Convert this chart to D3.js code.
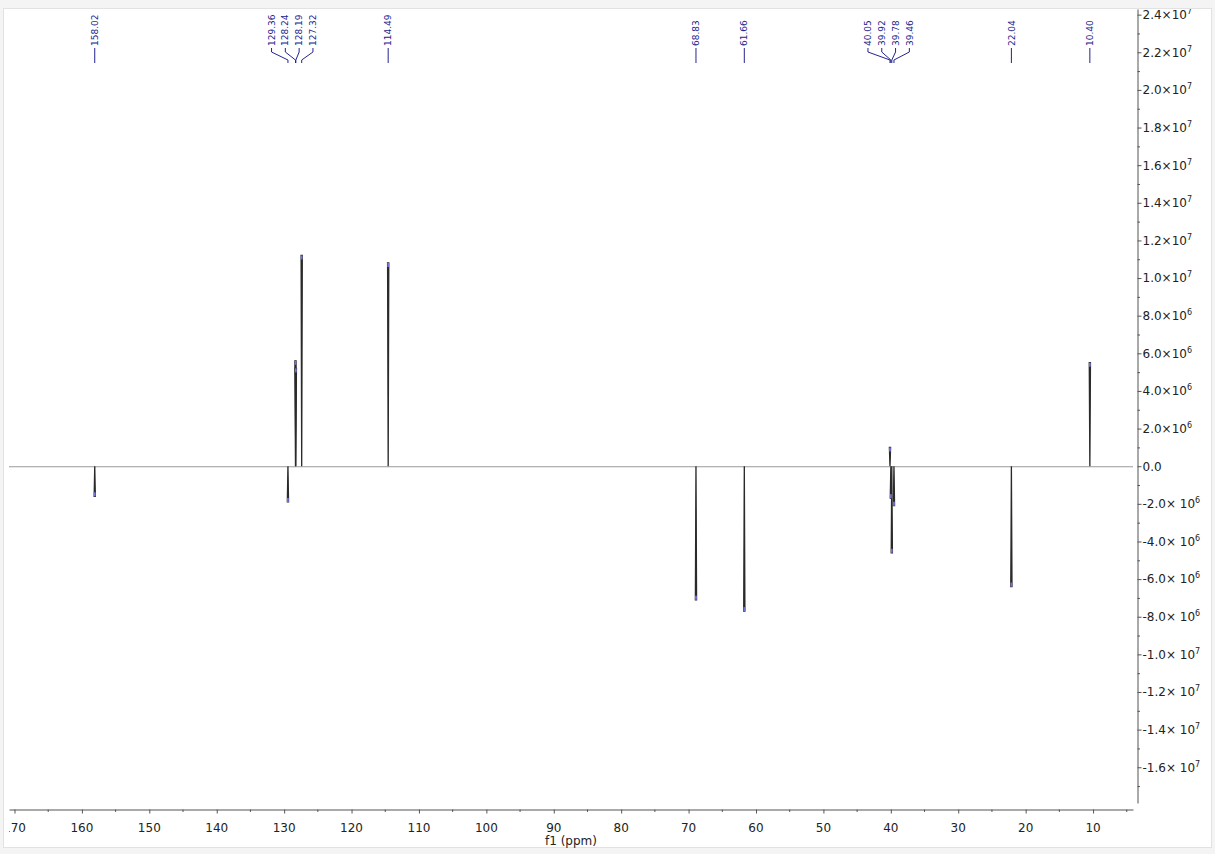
<!DOCTYPE html>
<html><head><meta charset="utf-8">
<script src="https://cdn.jsdelivr.net/npm/d3@7"></script>
<style>body{margin:0;background:#f4f4f4}svg{display:block}</style>
</head><body><svg id="c" width="1215" height="854"></svg>
<script>
// ---- data ----
const peakPpm = [158.02, 129.36, 128.24, 128.19, 127.32, 114.49, 68.83, 61.66, 40.05, 39.92, 39.78, 39.46, 22.04, 10.40];
const peakIntensity = [-1.6e6, -1.9e6, 5.6e6, 5.2e6, 1.12e7, 1.08e7, -7.1e6, -7.7e6, 1.0e6, -1.7e6, -4.6e6, -2.1e6, -6.4e6, 5.5e6];
const labelGroups = [[158.02], [129.36, 128.24, 128.19, 127.32], [114.49], [68.83], [61.66], [40.05, 39.92, 39.78, 39.46], [22.04], [10.40]];
const xMajorTicks = [170, 160, 150, 140, 130, 120, 110, 100, 90, 80, 70, 60, 50, 40, 30, 20, 10];
const xMinorTicks = [165, 155, 145, 135, 125, 115, 105, 95, 85, 75, 65, 55, 45, 35, 25, 15, 5];
const yMajorTicks = [2.4e7, 2.2e7, 2.0e7, 1.8e7, 1.6e7, 1.4e7, 1.2e7, 1.0e7, 8e6, 6e6, 4e6, 2e6, 0, -2e6, -4e6, -6e6, -8e6, -1.0e7, -1.2e7, -1.4e7, -1.6e7];
const yMinorTicks = [2.3e7, 2.1e7, 1.9e7, 1.7e7, 1.5e7, 1.3e7, 1.1e7, 9e6, 7e6, 5e6, 3e6, 1e6, -1e6, -3e6, -5e6, -7e6, -9e6, -1.1e7, -1.3e7, -1.5e7, -1.7e7];
const xTitle = "f1 (ppm)";

// ---- drawing ----
const svg = d3.select("#c");
const FONT = "DejaVu Sans";
const BLUE = "#24248f";

svg.append("rect").attr("x", 3.5).attr("y", 8.5).attr("width", 1208).attr("height", 839)
  .attr("fill", "#fff").attr("stroke", "#e2e2e2");
svg.append("defs").append("clipPath").attr("id", "clip")
  .append("rect").attr("x", 9).attr("y", 9).attr("width", 1202).attr("height", 841);
const g = svg.append("g").attr("clip-path", "url(#clip)");

const x = d3.scaleLinear().domain([170.74, 4.0]).range([9, 1133]);
const y = d3.scaleLinear().domain([-1.79e7, 2.43e7]).range([803, 9]);

// baseline
g.append("line").attr("x1", x(170.74)).attr("x2", x(4.0))
  .attr("y1", y(0) + 0.5).attr("y2", y(0) + 0.5)
  .attr("stroke", "#9a9a9a").attr("stroke-width", 1.1);

// peaks
const peaks = peakPpm.map((p, i) => ({p, v: peakIntensity[i]}));
const pg = g.append("g");
pg.selectAll("path.pk").data(peaks).join("path").attr("class", "pk")
  .attr("d", d => `M${x(d.p)},${y(0)}L${x(d.p) - 0.6},${y(d.v)}L${x(d.p) + 0.6},${y(d.v)}Z`)
  .attr("fill", "#1a1a1a").attr("stroke", "#2a2a2a").attr("stroke-width", 1.3);
pg.selectAll("line.tip").data(peaks).join("line").attr("class", "tip")
  .attr("x1", d => x(d.p)).attr("x2", d => x(d.p))
  .attr("y1", d => y(d.v)).attr("y2", d => y(d.v) + (d.v > 0 ? 4 : -4))
  .attr("stroke", "#7474d8").attr("stroke-width", 1.8);

// peak labels
const lg = g.append("g");
const spacing = 13.8;
labelGroups.forEach(grp => {
  const px = grp.map(p => x(p));
  const center = grp.length > 1 ? d3.mean(px) - 3 : px[0];
  grp.forEach((p, i) => {
    const lx = center + (i - (grp.length - 1) / 2) * spacing;
    lg.append("text")
      .attr("transform", `translate(${lx},46) rotate(-90)`)
      .attr("dy", "0.35em")
      .attr("font-family", FONT).attr("font-size", 9).attr("fill", BLUE)
      .text(p.toFixed(2));
    const d = grp.length > 1
      ? `M${lx},48V52L${px[i]},60V63`
      : `M${lx},48V63`;
    lg.append("path").attr("d", d).attr("fill", "none").attr("stroke", BLUE).attr("stroke-width", 1);
  });
});

// bottom axis
const xa = g.append("g").attr("transform", "translate(0,809.5)")
  .call(d3.axisBottom(x).tickValues(xMajorTicks).tickSize(4).tickSizeOuter(0).tickPadding(10).tickFormat(d3.format("d")));
xa.selectAll(".tick line").attr("transform", "translate(0.5,0)");
xa.append("g").selectAll("line").data(xMinorTicks).join("line")
  .attr("x1", d => x(d) + 0.5).attr("x2", d => x(d) + 0.5).attr("y1", 0).attr("y2", 2.5).attr("stroke", "#555");
xa.select(".domain").attr("stroke", "#555");
xa.selectAll(".tick line").attr("stroke", "#555");
xa.selectAll("text").attr("font-family", FONT).attr("font-size", 12).attr("fill", "#222");

g.append("text").attr("x", (x.range()[0] + x.range()[1]) / 2).attr("y", 845)
  .attr("text-anchor", "middle").attr("font-family", FONT).attr("font-size", 12).attr("fill", "#222")
  .text(xTitle);

// right axis
const ya = g.append("g").attr("transform", "translate(1137.5,0)")
  .call(d3.axisRight(y).tickValues(yMajorTicks).tickSize(4).tickSizeOuter(0).tickPadding(1));
ya.select(".domain").attr("stroke", "#555");
ya.selectAll(".tick line").attr("stroke", "#555");
ya.append("g").selectAll("line").data(yMinorTicks).join("line")
  .attr("y1", d => y(d) + 0.5).attr("y2", d => y(d) + 0.5).attr("x1", 0).attr("x2", 2.5).attr("stroke", "#555");
ya.selectAll(".tick text").each(function(v) {
  const t = d3.select(this).text("").attr("font-family", FONT).attr("font-size", 12).attr("fill", "#222");
  if (v === 0) { t.text("0.0"); return; }
  const e = Math.floor(Math.log10(Math.abs(v)) + 1e-9);
  const m = (v / Math.pow(10, e)).toFixed(1);
  t.append("tspan").text(m + (v < 0 ? "× 10" : "×10"));
  t.append("tspan").attr("dy", -5).attr("font-size", 8).text(e);
});
</script></body></html>
